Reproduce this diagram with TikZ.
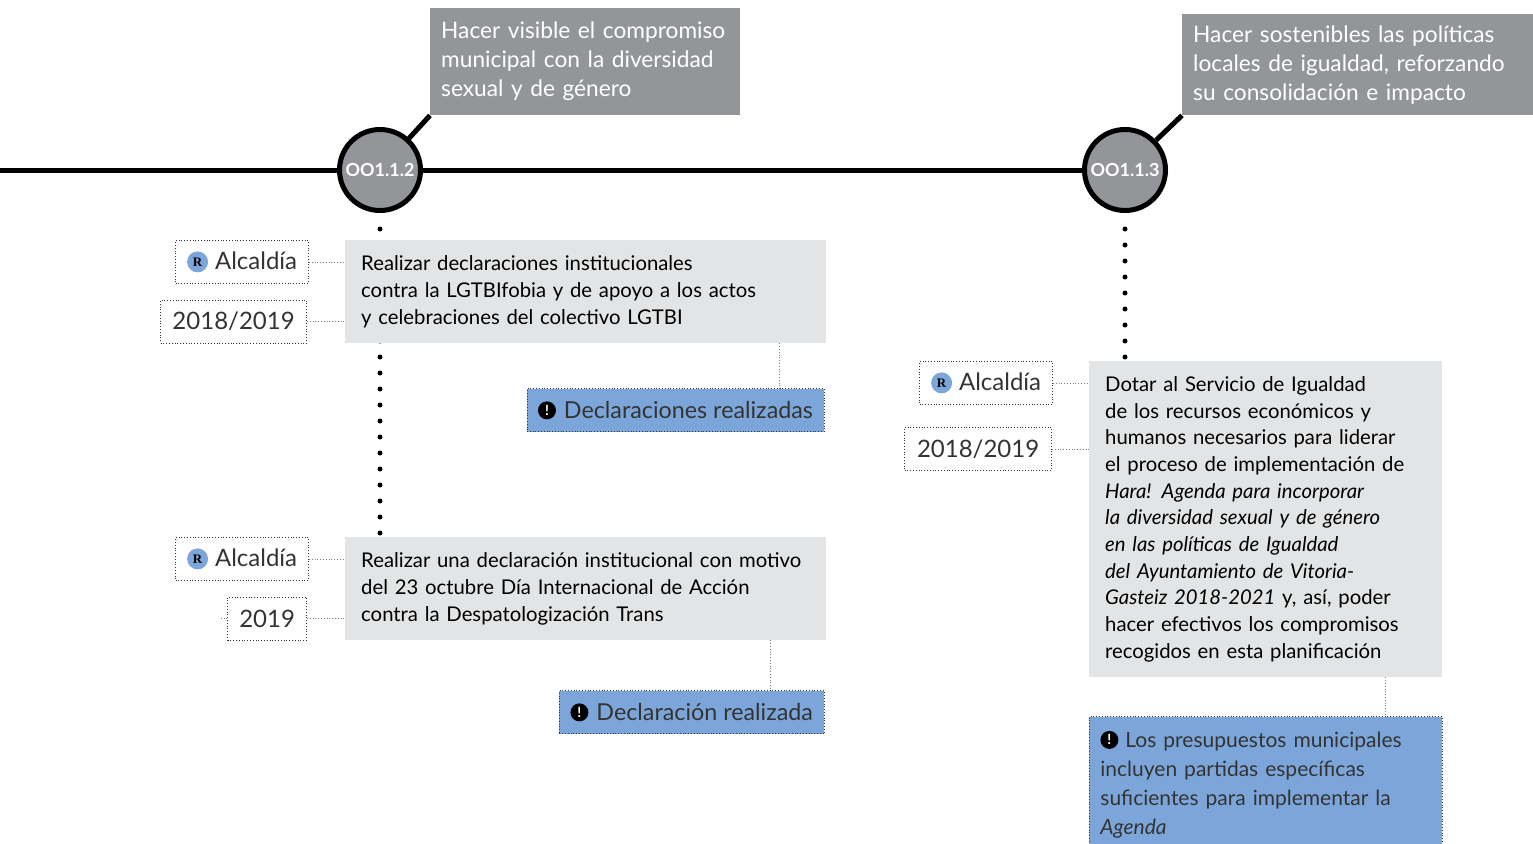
\documentclass[tikz,border=0pt]{standalone}
\usepackage{fontspec}
\setmainfont{Lato}
\newfontfamily\iconfont{Liberation Serif}
\usetikzlibrary{positioning,backgrounds}

\definecolor{topgray}{HTML}{939598}
\definecolor{boxgray}{HTML}{E3E4E5}
\definecolor{resblue}{HTML}{7CA6D9}
\definecolor{inkgray}{HTML}{333333}

\newcommand{\respicon}{\tikz[baseline={([yshift=-8pt]ricon.center)}]\node[circle,anchor=center,fill=resblue,text=black,inner sep=0pt,minimum size=21pt,font=\iconfont\bfseries\fontsize{13}{13}\selectfont] (ricon) {R};}
\newcommand{\warnicon}{\tikz[baseline={([yshift=-8pt]wicon.center)}]\node[circle,anchor=center,fill=black,text=white,inner sep=0pt,minimum size=18pt,font=\bfseries\fontsize{14}{14}\selectfont] (wicon) {!};}

\tikzset{
  milestone/.style={circle, draw=black, line width=5pt, fill=topgray, minimum size=81pt, inner sep=0pt, text=white, font=\bfseries\fontsize{18}{18}\selectfont},
  goalbox/.style={fill=topgray, text=white, align=left, inner xsep=11pt, anchor=north west, font=\fontsize{22.7}{29}\selectfont},
  taskbox/.style={fill=boxgray, text=black, align=left, inner xsep=16pt, anchor=north west, font=\fontsize{20.3}{26.7}\selectfont},
  tagbox/.style={draw=inkgray, dotted, line width=0.8pt, text=inkgray, minimum height=43pt, font=\fontsize{24}{24}\selectfont},
  resultbox/.style={fill=resblue, draw=inkgray, dotted, line width=0.8pt, text=inkgray, align=left, inner xsep=11pt, font=\fontsize{23.3}{29}\selectfont},
  timeline/.style={line width=5pt},
  dots/.style={line width=5pt, line cap=round, dash pattern=on 0pt off 16pt},
  link/.style={gray, line width=0.8pt, dotted},
}

\begin{document}
\begin{tikzpicture}[x=1pt,y=-1pt]
  \useasboundingbox (0,0) rectangle (1533,843);
  \coordinate (start) at (0,170);
  \node[milestone] (c1) at (380,170) {OO1.1.2};
  \node[milestone] (c2) at (1125,170) {OO1.1.3};

  \node[goalbox, text width=288pt, minimum height=107pt] (g1) at (430,8)
    {Hacer visible el compromiso\\municipal con la diversidad\\sexual y de género};
  \node[goalbox, text width=329pt, minimum height=101pt] (g2) at (1182,14)
    {Hacer sostenibles las políticas\\locales de igualdad, reforzando\\su consolidación e impacto};

  \node[taskbox, text width=449pt, minimum height=103pt] (t1) at (345,240)
    {Realizar declaraciones institucionales\\contra la LGTBIfobia y de apoyo a los actos\\y celebraciones del colectivo LGTBI};
  \node[taskbox, text width=449pt, minimum height=103pt] (t2) at (345,537)
    {Realizar una declaración institucional con motivo\\del 23 octubre Día Internacional de Acción\\contra la Despatologización Trans};
  \node[taskbox, text width=321pt, minimum height=316pt] (t3) at (1089,361)
    {Dotar al Servicio de Igualdad\\de los recursos económicos y\\humanos necesarios para liderar\\el proceso de implementación de\\\textit{Hara! Agenda para incorporar}\\\textit{la diversidad sexual y de género}\\\textit{en las políticas de Igualdad}\\\textit{del Ayuntamiento de Vitoria-}\\\textit{Gasteiz 2018-2021} y, así, poder\\hacer efectivos los compromisos\\recogidos en esta planificación};

  \node[tagbox, left=36pt of t1.north west, anchor=north east, minimum width=133pt] (r1) {\respicon\hspace{7pt}Alcaldía};
  \node[tagbox, left=38pt of t1.south west, anchor=south east, minimum width=146pt] (y1) {2018/2019};
  \node[tagbox, left=36pt of t2.north west, anchor=north east, minimum width=133pt] (r2) {\respicon\hspace{7pt}Alcaldía};
  \node[tagbox, left=38pt of t2.south west, anchor=south east, minimum width=79pt] (y2) {2019};
  \node[tagbox, left=36pt of t3.north west, anchor=north east, minimum width=133pt] (r3) {\respicon\hspace{7pt}Alcaldía};
  \node[tagbox, below left=66pt and 37pt of t3.north west, anchor=north east, minimum width=147pt] (y3) {2018/2019};

  \node[resultbox, below left=45pt and 2pt of t1.south east, minimum height=43pt] (b1) {\warnicon\hspace{8pt}Declaraciones realizadas};
  \node[resultbox, below left=50pt and 2pt of t2.south east, minimum height=43pt] (b2) {\warnicon\hspace{8pt}Declaración realizada};
  \node[resultbox, below=39pt of t3.south west, anchor=north west, text width=331pt, minimum height=136pt, font=\fontsize{21}{29}\selectfont] (b3)
    {\warnicon\hspace{7pt}Los presupuestos municipales\\incluyen partidas específicas\\suficientes para implementar la\\\textit{Agenda}};

  \begin{scope}[on background layer]
    \draw[timeline] (start) -- (c1) -- (c2);
    \draw[dots] ([yshift=-16pt]c1.south) -- (c1 |- t2.north);
    \draw[dots] ([yshift=-16pt]c2.south) -- (c2 |- t3.north);
  \end{scope}
  \draw[timeline] (c1) -- (g1.south west);
  \draw[timeline] (c2) -- (g2.south west);

  \draw[link] (r1) -- (r1 -| t1.west);
  \draw[link] (y1) -- (y1 -| t1.west);
  \draw[link] (r2) -- (r2 -| t2.west);
  \draw[link] (y2) -- (y2 -| t2.west);
  \draw[link] (r3) -- (r3 -| t3.west);
  \draw[link] (y3) -- (y3 -| t3.west);
  \coordinate[left=8pt of y2.west] (s2);
  \draw[link] (y2) -- (s2);

  \coordinate[left=47pt of t1.south east] (k1);
  \coordinate[left=56pt of t2.south east] (k2);
  \coordinate[left=57pt of t3.south east] (k3);
  \draw[link] (k1) -- (k1 |- b1.north);
  \draw[link] (k2) -- (k2 |- b2.north);
  \draw[link] (k3) -- (k3 |- b3.north);
\end{tikzpicture}
\end{document}
